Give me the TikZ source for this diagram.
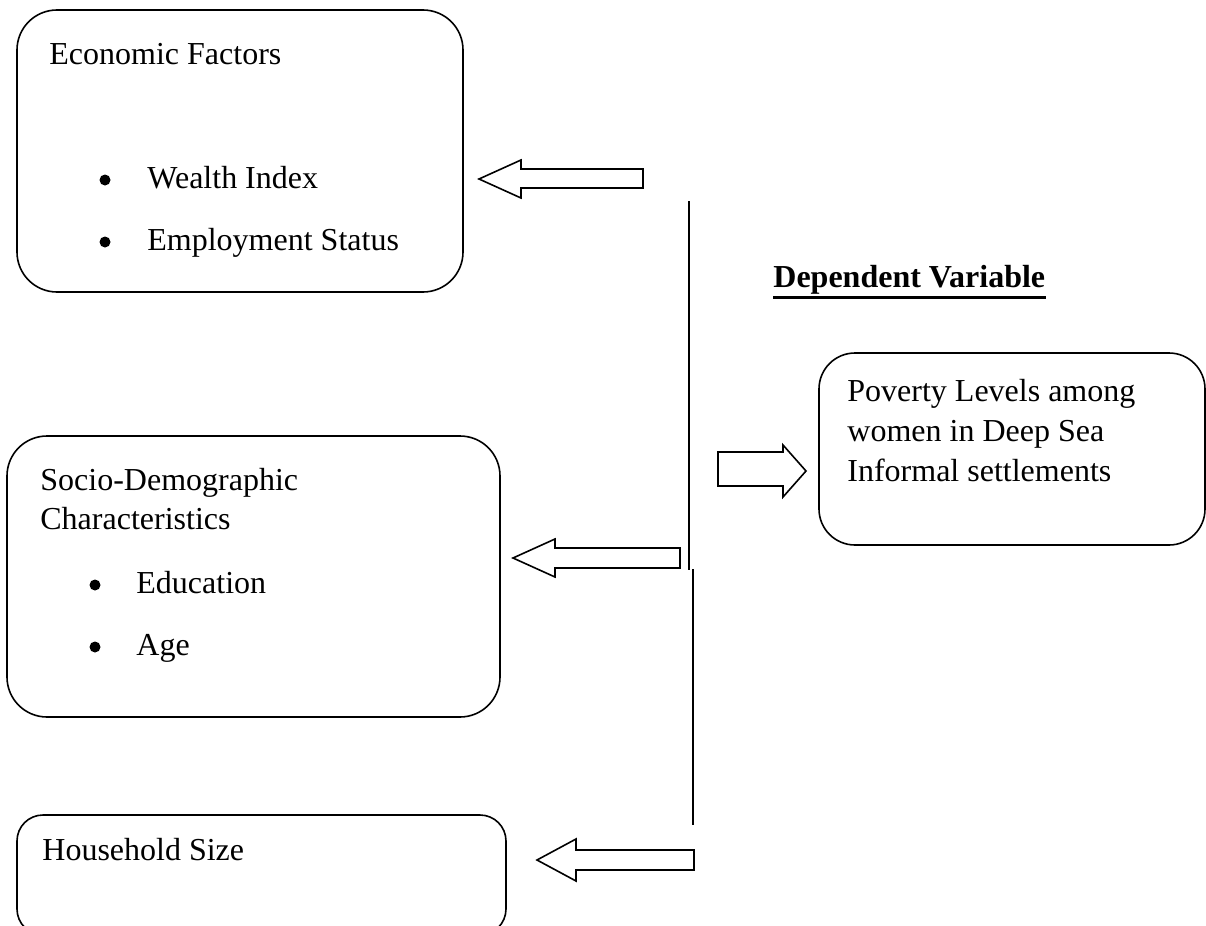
\documentclass[tikz,border=0pt]{standalone}
\usepackage{fontspec}
\setmainfont{Liberation Serif}
\usepackage{tikz}

\begin{document}
\begin{tikzpicture}[x=0.5pt,y=-0.5pt,
    box/.style={draw,line width=0.8pt,inner sep=0pt},
    txt/.style={anchor=base west,inner sep=0pt,font=\fontsize{16}{19}\selectfont},
    dot/.style={circle,fill,inner sep=0pt,minimum size=5.5pt},
    hollow/.style={draw,line width=0.8pt,line join=miter}]
    \clip (0,0) rectangle (1206,926);

    % boxes
    \node[box,rounded corners=20pt,minimum width=223pt,minimum height=141pt] (econ) at (240,151) {};
    \node[box,rounded corners=20pt,minimum width=246.5pt,minimum height=140.5pt] (socio) at (253.5,576.5) {};
    \node[box,rounded corners=13pt,minimum width=244.5pt,minimum height=60pt] (house) at (261.5,875) {};
    \node[box,rounded corners=18pt,minimum width=193pt,minimum height=96pt] (pov) at (1012,449) {};

    % texts
    \node[txt] (econtitle) at (49,64) {Economic Factors};
    \node[dot] (dota) at (105,180) {};
    \node[txt] (wealth) at (147,188) {Wealth Index};
    \node[dot] (dotb) at (105,242) {};
    \node[txt] (employ) at (147,250) {Employment Status};

    \node[txt] (sociotitle) at (40,490) {Socio-Demographic};
    \node[txt] (sociochar) at (40,529) {Characteristics};
    \node[dot] (dotc) at (95,585) {};
    \node[txt] (edu) at (136,593) {Education};
    \node[dot] (dotd) at (95,647) {};
    \node[txt] (age) at (136,655) {Age};

    \node[txt] (housetitle) at (42,860) {Household Size};

    \node[txt] (pova) at (847,401) {Poverty Levels among};
    \node[txt] (povb) at (847,441) {women in Deep Sea};
    \node[txt] (povc) at (847,481) {Informal settlements};

    \node[txt] (depvar) at (773,287) {\textbf{Dependent Variable}};
    \draw[line width=1.5pt] ([yshift=-5pt]depvar.base west) -- ([yshift=-5pt]depvar.base east);

    % vertical lines
    \draw[line width=0.8pt] (689,201) -- (689,570);
    \draw[line width=0.8pt] (693,569) -- (693,825);

    % hollow arrows
    \draw[hollow] (643,169) -- (521,169) -- (521,160) -- (479,179) -- (521,198) -- (521,188) -- (643,188) -- cycle;
    \draw[hollow] (680,548) -- (555,548) -- (555,539) -- (513,558) -- (555,577) -- (555,568) -- (680,568) -- cycle;
    \draw[hollow] (694,850) -- (576,850) -- (576,839) -- (537,860) -- (576,881) -- (576,870) -- (694,870) -- cycle;
    \draw[hollow] (718,452) -- (783,452) -- (783,445) -- (806,471) -- (783,497) -- (783,486) -- (718,486) -- cycle;
\end{tikzpicture}
\end{document}
